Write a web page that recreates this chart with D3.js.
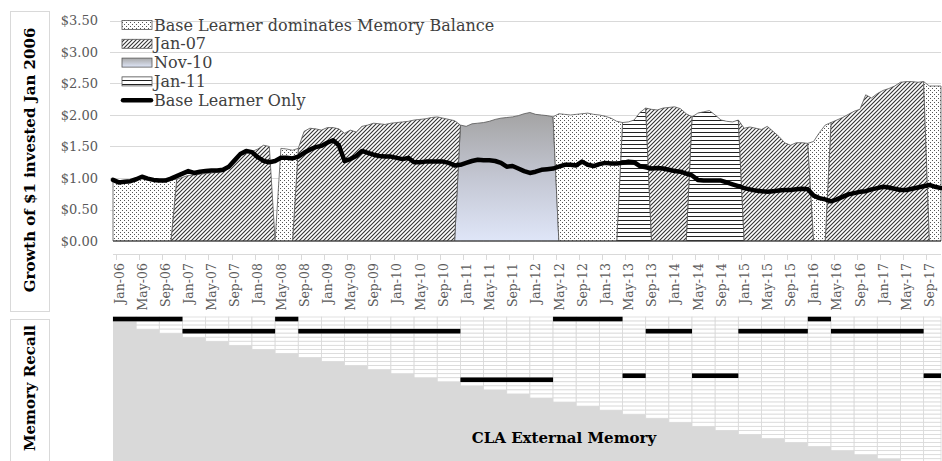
<!DOCTYPE html>
<html>
<head>
<meta charset="utf-8">
<script src="https://cdn.jsdelivr.net/npm/d3@7"></script>
<style>
  body { margin: 0; background: #fff; }
  svg { display: block; font-family: 'DejaVu Serif', serif; }
</style>
</head>
<body>
<svg width="942" height="461"></svg>
<script>
const svg = d3.select('svg');

// one label every four months
const tickLabels = ['Jan-06', 'May-06', 'Sep-06', 'Jan-07', 'May-07', 'Sep-07', 'Jan-08', 'May-08', 'Sep-08',
  'Jan-09', 'May-09', 'Sep-09', 'Jan-10', 'May-10', 'Sep-10', 'Jan-11', 'May-11', 'Sep-11',
  'Jan-12', 'May-12', 'Sep-12', 'Jan-13', 'May-13', 'Sep-13', 'Jan-14', 'May-14', 'Sep-14',
  'Jan-15', 'May-15', 'Sep-15', 'Jan-16', 'May-16', 'Sep-16', 'Jan-17', 'May-17', 'Sep-17'];

const yTicks = [0, 0.5, 1, 1.5, 2, 2.5, 3, 3.5];

// memory balance, monthly from Jan-06
const balance = [
  0.96, 0.93, 0.94, 0.95, 0.97, 1.00, 0.98, 0.96, 0.95, 0.95, 0.97,
  0.98, 1.01, 1.04, 1.05, 1.06, 1.07, 1.08, 1.09, 1.10, 1.18, 1.30, 1.36, 1.39, 1.42, 1.46, 1.52, 1.50,
  0,
  1.47, 1.46, 1.44,
  1.47, 1.74, 1.79, 1.78, 1.76, 1.80, 1.80, 1.78, 1.71, 1.76, 1.73, 1.82, 1.84, 1.87, 1.86, 1.85,
  1.87, 1.88, 1.89, 1.90, 1.92, 1.93, 1.94, 1.96, 1.97, 1.95, 1.93, 1.91,
  1.84, 1.82, 1.86, 1.87, 1.88, 1.90, 1.93, 1.95, 1.96, 1.97, 1.99, 2.02, 2.04, 2.01, 2.00, 1.99, 1.97,
  2.02, 2.01, 2.00, 2.01, 2.02, 2.03, 2.01, 2.00, 1.98, 1.95, 1.90,
  1.88, 1.89, 1.92, 2.04, 2.11,
  2.09, 2.08, 2.11, 2.12, 2.13, 2.10, 2.02,
  1.97, 2.03, 2.05, 2.07, 2.00, 1.92, 1.90, 1.89, 1.92,
  1.79, 1.81, 1.79, 1.77, 1.82, 1.74, 1.66, 1.56, 1.52, 1.56, 1.56, 1.55,
  1.58, 1.72, 1.84,
  1.88, 1.92, 1.96, 2.01, 2.06, 2.09, 2.32, 2.27, 2.34, 2.39, 2.42, 2.46, 2.52, 2.53, 2.53, 2.52, 2.53,
  2.46, 2.46, 2.46
];

// base learner only, monthly from Jan-06
const baseLearner = [
  0.97, 0.93, 0.94, 0.95, 0.98, 1.02, 0.99, 0.97, 0.96, 0.96, 0.99, 1.03,
  1.07, 1.11, 1.08, 1.10, 1.11, 1.12, 1.12, 1.13, 1.18, 1.28, 1.38, 1.43,
  1.41, 1.33, 1.27, 1.25, 1.27, 1.32, 1.32, 1.31, 1.34, 1.40, 1.45, 1.49,
  1.51, 1.56, 1.60, 1.52, 1.27, 1.30, 1.35, 1.43, 1.40, 1.37, 1.35, 1.34,
  1.34, 1.32, 1.30, 1.32, 1.25, 1.25, 1.26, 1.26, 1.26, 1.26, 1.24, 1.20,
  1.21, 1.24, 1.27, 1.29, 1.28, 1.28, 1.27, 1.24, 1.18, 1.19, 1.15, 1.11,
  1.08, 1.10, 1.13, 1.14, 1.15, 1.18, 1.21, 1.21, 1.20, 1.26, 1.21, 1.19,
  1.22, 1.24, 1.23, 1.23, 1.24, 1.26, 1.25, 1.19, 1.17, 1.15, 1.16, 1.15,
  1.13, 1.11, 1.10, 1.07, 1.04, 0.97, 0.96, 0.96, 0.96, 0.96, 0.93, 0.90,
  0.87, 0.84, 0.82, 0.80, 0.79, 0.78, 0.79, 0.80, 0.81, 0.81, 0.82, 0.83,
  0.82, 0.72, 0.68, 0.66, 0.63, 0.66, 0.70, 0.74, 0.76, 0.78, 0.79, 0.82,
  0.84, 0.86, 0.85, 0.83, 0.81, 0.81, 0.83, 0.85, 0.87, 0.89, 0.86, 0.84
];

// memory that holds the balance: [key, first month, last month]
const regimes = [
  ['base', 0, 10], ['jan07', 11, 27], ['none', 28, 28], ['base', 29, 31], ['jan07', 32, 59],
  ['nov10', 60, 76], ['base', 77, 87], ['jan11', 88, 92], ['jan07', 93, 99], ['jan11', 100, 108],
  ['jan07', 109, 120], ['base', 121, 123], ['jan07', 124, 140], ['base', 141, 143]
];

// memory recalled: [key, first column, last column], one column per four months
const recalls = [
  ['base', 0, 2], ['jan07', 3, 6], ['base', 7, 7], ['jan07', 8, 14], ['nov10', 15, 18],
  ['base', 19, 21], ['jan11', 22, 22], ['jan07', 23, 24], ['jan11', 25, 26], ['jan07', 27, 29],
  ['base', 30, 30], ['jan07', 31, 34], ['jan11', 35, 35]
];
const memoryRow = { base: 0, jan07: 3, jan11: 14, nov10: 15 };

const legendItems = [
  ['base', 'Base Learner dominates Memory Balance'],
  ['jan07', 'Jan-07'],
  ['nov10', 'Nov-10'],
  ['jan11', 'Jan-11'],
  ['line', 'Base Learner Only']
];

const x = d3.scaleLinear().domain([0, balance.length - 1]).range([113, 941]);
const y = d3.scaleLinear().domain([0, 3.5]).range([241, 20.5]);

// fills
const defs = svg.append('defs');

const dots = defs.append('pattern').attr('id', 'dots')
  .attr('patternUnits', 'userSpaceOnUse').attr('width', 4).attr('height', 4);
dots.append('rect').attr('width', 4).attr('height', 4).attr('fill', '#fff');
dots.append('rect').attr('x', 0).attr('y', 0).attr('width', 1).attr('height', 1).attr('fill', '#555');
dots.append('rect').attr('x', 2).attr('y', 2).attr('width', 1).attr('height', 1).attr('fill', '#555');

const diag = defs.append('pattern').attr('id', 'diag')
  .attr('patternUnits', 'userSpaceOnUse').attr('width', 4).attr('height', 4);
diag.append('rect').attr('width', 4).attr('height', 4).attr('fill', '#fff');
diag.append('path').attr('d', 'M-1,1 l2,-2 M0,4 l4,-4 M3,5 l2,-2')
  .attr('stroke', '#333').attr('stroke-width', 1.1);

const horiz = defs.append('pattern').attr('id', 'horiz')
  .attr('patternUnits', 'userSpaceOnUse').attr('width', 4).attr('height', 4);
horiz.append('rect').attr('width', 4).attr('height', 4).attr('fill', '#fff');
horiz.append('path').attr('d', 'M0,0.5 H4').attr('stroke', '#222').attr('stroke-width', 1);

const grad = defs.append('linearGradient').attr('id', 'grad')
  .attr('gradientUnits', 'userSpaceOnUse')
  .attr('x1', 0).attr('x2', 0).attr('y1', y(2.05)).attr('y2', y(0));
grad.append('stop').attr('offset', 0).attr('stop-color', '#a3a3a3');
grad.append('stop').attr('offset', 0.5).attr('stop-color', '#c3c6d2');
grad.append('stop').attr('offset', 1).attr('stop-color', '#dfe6f8');

const gradKey = defs.append('linearGradient').attr('id', 'gradKey')
  .attr('x1', 0).attr('x2', 0).attr('y1', 0).attr('y2', 1);
gradKey.append('stop').attr('offset', 0).attr('stop-color', '#a8a8a8');
gradKey.append('stop').attr('offset', 1).attr('stop-color', '#dfe6f8');

const fills = { base: 'url(#dots)', jan07: 'url(#diag)', nov10: 'url(#grad)', jan11: 'url(#horiz)' };

// left title boxes
svg.append('rect').attr('x', 10.5).attr('y', 11.5).attr('width', 39).attr('height', 300)
  .attr('fill', 'none').attr('stroke', '#d9d9d9');
svg.append('rect').attr('x', 10.5).attr('y', 319.5).attr('width', 39).attr('height', 160)
  .attr('fill', 'none').attr('stroke', '#d9d9d9');
svg.append('text').attr('transform', 'translate(30,160) rotate(-90)')
  .attr('text-anchor', 'middle').attr('dominant-baseline', 'central')
  .style('font-size', '15px').style('font-weight', 'bold').attr('fill', '#000')
  .text('Growth of $1 invested Jan 2006');
svg.append('text').attr('transform', 'translate(30,388) rotate(-90)')
  .attr('text-anchor', 'middle').attr('dominant-baseline', 'central')
  .style('font-size', '15px').style('font-weight', 'bold').attr('fill', '#000')
  .text('Memory Recall');

// gridlines and y labels
svg.selectAll('line.grid')
  .data(yTicks.filter(d => d > 0))
  .enter()
  .append('line')
  .attr('x1', 110).attr('x2', 941)
  .attr('y1', d => Math.round(y(d)) + 0.5).attr('y2', d => Math.round(y(d)) + 0.5)
  .attr('stroke', '#d9d9d9');

svg.selectAll('text.ylab')
  .data(yTicks)
  .enter()
  .append('text')
  .attr('x', 98).attr('y', d => y(d))
  .attr('text-anchor', 'end').attr('dominant-baseline', 'central')
  .style('font-size', '13px').attr('fill', '#595959')
  .text(d => '$' + d.toFixed(2));

// stacked areas, one memory at a time
const regimeOf = balance.map((v, i) => {
  const run = regimes.find(r => i >= r[1] && i <= r[2]);
  return run ? run[0] : 'none';
});
const keys = ['nov10', 'jan11', 'jan07', 'base'];
const table = balance.map((v, i) => {
  const row = {};
  keys.forEach(k => { row[k] = regimeOf[i] === k ? v : 0; });
  return row;
});
const stacked = d3.stack().keys(keys)(table);

stacked.forEach(series => {
  const k = series.key;
  const near = i => regimeOf[i - 1] === k || regimeOf[i] === k || regimeOf[i + 1] === k;
  const area = d3.area()
    .defined((d, i) => near(i))
    .x((d, i) => x(i))
    .y0(d => y(d[0]))
    .y1(d => y(d[1]));
  svg.append('path')
    .datum(series)
    .attr('d', area)
    .attr('fill', fills[k])
    .attr('stroke', '#555')
    .attr('stroke-width', 0.8)
    .attr('stroke-linejoin', 'round');
});

svg.append('line').attr('x1', 113).attr('x2', 941).attr('y1', y(0)).attr('y2', y(0))
  .attr('stroke', '#333').attr('stroke-width', 1);

// base learner line
svg.append('path')
  .datum(baseLearner)
  .attr('d', d3.line().x((d, i) => x(i)).y(d => y(d)))
  .attr('fill', 'none')
  .attr('stroke', '#000')
  .attr('stroke-width', 4.5)
  .attr('stroke-linejoin', 'round')
  .attr('stroke-linecap', 'round');

// x axis
svg.append('line').attr('x1', 113).attr('x2', 941).attr('y1', 254.5).attr('y2', 254.5)
  .attr('stroke', '#d9d9d9');
svg.selectAll('line.xtick')
  .data(tickLabels)
  .enter()
  .append('line')
  .attr('x1', (d, i) => Math.round(x(i * 4) + 2.7) + 0.5)
  .attr('x2', (d, i) => Math.round(x(i * 4) + 2.7) + 0.5)
  .attr('y1', 254).attr('y2', 260)
  .attr('stroke', '#d9d9d9');
svg.selectAll('text.xlab')
  .data(tickLabels)
  .enter()
  .append('text')
  .attr('transform', (d, i) => `translate(${x(i * 4) + 6},263) rotate(-90)`)
  .attr('text-anchor', 'end').attr('dominant-baseline', 'central')
  .style('font-size', '12.5px').attr('fill', '#595959')
  .text(d => d);

// legend
const legend = svg.append('g');
legendItems.forEach(([key, label], i) => {
  const cy = 25 + i * 18.8;
  if (key === 'line') {
    legend.append('line').attr('x1', 123).attr('x2', 151).attr('y1', cy).attr('y2', cy)
      .attr('stroke', '#000').attr('stroke-width', 4.5).attr('stroke-linecap', 'round');
  } else {
    legend.append('rect').attr('x', 122).attr('y', cy - 4.5).attr('width', 30).attr('height', 9)
      .attr('fill', key === 'nov10' ? 'url(#gradKey)' : fills[key])
      .attr('stroke', '#555').attr('stroke-width', 0.8);
  }
  legend.append('text').attr('x', 154).attr('y', cy)
    .attr('dominant-baseline', 'central')
    .style('font-size', '16px').attr('fill', '#404040')
    .text(label);
});

// memory recall panel
const cols = tickLabels.length;
const yRow = d3.scaleLinear().domain([0, 1]).range([317, 321.05]);
const colX0 = c => x(c * 4);
const colX1 = c => Math.min(x(c * 4 + 4), x(balance.length - 1));

svg.append('rect').attr('x', 113).attr('y', 317).attr('width', 828).attr('height', 144)
  .attr('fill', '#d9d9d9');

const cells = [];
d3.range(cols).forEach(c => {
  const last = c === 0 ? 0 : c + 1;
  d3.range(last + 1).forEach(r => cells.push({ c, r }));
});
svg.selectAll('rect.cell')
  .data(cells)
  .enter()
  .append('rect')
  .attr('x', d => colX0(d.c))
  .attr('y', d => yRow(d.r))
  .attr('width', d => colX1(d.c) - colX0(d.c))
  .attr('height', yRow(1) - yRow(0))
  .attr('fill', '#fff')
  .attr('stroke', '#d9d9d9')
  .attr('stroke-width', 0.8);

svg.selectAll('rect.recall')
  .data(recalls)
  .enter()
  .append('rect')
  .attr('x', d => colX0(d[1]))
  .attr('width', d => colX1(d[2]) - colX0(d[1]))
  .attr('y', d => yRow(memoryRow[d[0]] + 0.5) - 2.3)
  .attr('height', 4.6)
  .attr('fill', '#000');

svg.append('text').attr('x', 564).attr('y', 438)
  .attr('text-anchor', 'middle').attr('dominant-baseline', 'central')
  .style('font-size', '15px').style('font-weight', 'bold').attr('fill', '#000')
  .text('CLA External Memory');
</script>
</body>
</html>
